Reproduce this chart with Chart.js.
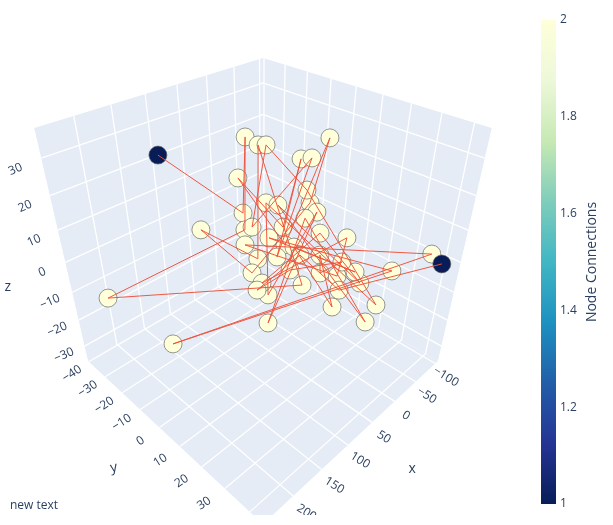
<!DOCTYPE html>
<html>
<head>
<meta charset="utf-8">
<title>Network 3D</title>
<script src="https://cdn.jsdelivr.net/npm/chart.js@4.4.1/dist/chart.umd.min.js"></script>
<style>
    html, body { margin: 0; padding: 0; background: #fff; }
    #wrap { position: relative; width: 613px; height: 525px; }
</style>
</head>
<body>
<div id="wrap"><canvas id="chart"></canvas></div>
<script>
// Node positions (data units), listed in path order: node i links to node i+1
var NODE_X = [110.9, 64.6, 23.4, 71.6, 229.9, 49.0, 15.9, 75.0, 111.1, 87.6,
              -0.8, -52.3, 43.5, 50.9, 36.0, -15.5, 56.9, -25.9, 63.8, 8.7,
              -4.8, -7.2, 38.8, 84.6, -2.3, 99.2, 11.5, 11.5, 29.1, -4.1,
              5.8, 83.8, -15.8, 12.8, 79.4, -83.8, 195.3, -39.1, 54.2, -5.4,
              36.4, 33.4, 17.3, 26.6, 1.1, 51.9, 91.9, 35.2, 18.4, -87.6];
var NODE_Y = [-33.5, -7.9, -16.9, -5.4, -26.4, 13.8, -13.1, 1.0, -14.9, 1.5,
              5.3, 1.5, 5.1, -13.4, 2.5, -2.1, 4.9, 0.1, -4.2, -11.4,
              3.0, 32.2, -4.2, 7.7, 7.9, 11.2, 6.1, 32.0, -1.4, 26.0,
              11.2, 4.9, 17.6, 20.2, -3.5, 37.9, -6.7, 31.4, 0.8, 23.6,
              7.3, 23.0, 13.9, 16.2, 19.5, 9.3, 4.7, 9.6, 22.4, 41.3];
var NODE_Z = [23.2, 10.8, 27.1, 7.2, -7.4, -4.6, 25.4, 1.0, 7.2, -2.0,
              13.0, 26.9, 4.0, 18.3, 7.8, 22.4, 1.4, 22.6, 7.8, 25.4,
              15.7, -8.9, 13.0, -6.7, 11.0, -12.7, 9.7, -12.5, 12.5, -4.2,
              6.5, -4.2, 5.5, -2.7, 4.0, 2.0, -17.2, -1.6, 5.5, -1.8,
              3.5, -9.3, 1.8, -2.0, 0.3, -1.4, -5.7, 1.8, -5.7, -0.1];

var X_RANGE = [-107, 249];
var Y_RANGE = [-40.5, 45];
var Z_RANGE = [-36, 37.5];
var X_TICKS = [-100, -50, 0, 50, 100, 150, 200];
var Y_TICKS = [-40, -30, -20, -10, 0, 10, 20, 30, 40];
var Z_TICKS = [-30, -20, -10, 0, 10, 20, 30];
var CBAR_TICKS = [1, 1.2, 1.4, 1.6, 1.8, 2];
var CBAR_RANGE = [1, 2];

var COLORSCALE = [
    [0, [8, 29, 88]], [0.125, [37, 52, 148]], [0.25, [34, 94, 168]],
    [0.375, [29, 145, 192]], [0.5, [65, 182, 196]], [0.625, [127, 205, 187]],
    [0.75, [199, 233, 180]], [0.875, [237, 248, 217]], [1, [255, 255, 217]]
];

var FONT = '"Open Sans", "Noto Sans", Arial, sans-serif';
var TEXT = '#2a3f5f';
var PANE = '#E5ECF6';

// camera: eye at (1.25,1.25,1.25), box scaled to a unit cube
var EYE_DIST = 1.25 * Math.sqrt(3);
var VIEW_X = [-263 / 607, 350 / 607];
var VIEW_Y = [-255 / 607, 260 / 607];   // scene ends 10px above the canvas bottom

function normal(x, y, z) {
    return [
        (x - X_RANGE[0]) / (X_RANGE[1] - X_RANGE[0]) - 0.5,
        (y - Y_RANGE[0]) / (Y_RANGE[1] - Y_RANGE[0]) - 0.5,
        (z - Z_RANGE[0]) / (Z_RANGE[1] - Z_RANGE[0]) - 0.5
    ];
}

function depthOf(x, y, z) {
    var p = normal(x, y, z);
    return EYE_DIST - (p[0] + p[1] + p[2]) / Math.sqrt(3);
}

function project(x, y, z) {
    var p = normal(x, y, z);
    var depth = depthOf(x, y, z);
    return {
        x: (p[1] - p[0]) / Math.SQRT2 / depth,
        y: (2 * p[2] - p[0] - p[1]) / Math.sqrt(6) / depth
    };
}

function colorAt(t) {
    for (var i = 1; i < COLORSCALE.length; i++) {
        if (t <= COLORSCALE[i][0]) {
            var a = COLORSCALE[i - 1], b = COLORSCALE[i];
            var f = (t - a[0]) / (b[0] - a[0]);
            var c = a[1].map(function (v, k) { return Math.round(v + (b[1][k] - v) * f); });
            return 'rgb(' + c.join(',') + ')';
        }
    }
    return 'rgb(255,255,217)';
}

var points = NODE_X.map(function (x, i) { return project(x, NODE_Y[i], NODE_Z[i]); });
var degree = NODE_X.map(function (_, i) {
    return (i > 0 ? 1 : 0) + (i < NODE_X.length - 1 ? 1 : 0);
});
var nodeColors = degree.map(function (d) {
    return colorAt((d - CBAR_RANGE[0]) / (CBAR_RANGE[1] - CBAR_RANGE[0]));
});

function toPx(chart, x, y, z) {
    var p = project(x, y, z);
    return { x: chart.scales.x.getPixelForValue(p.x), y: chart.scales.y.getPixelForValue(p.y) };
}

function drawSegment(ctx, chart, a, b) {
    var p = toPx(chart, a[0], a[1], a[2]);
    var q = toPx(chart, b[0], b[1], b[2]);
    ctx.moveTo(p.x, p.y);
    ctx.lineTo(q.x, q.y);
}

function drawPane(ctx, chart, corners) {
    ctx.beginPath();
    corners.forEach(function (c, i) {
        var p = toPx(chart, c[0], c[1], c[2]);
        if (i === 0) ctx.moveTo(p.x, p.y); else ctx.lineTo(p.x, p.y);
    });
    ctx.closePath();
    ctx.fill();
}

function drawLabel(ctx, text, x, y, angle, size) {
    ctx.save();
    ctx.translate(x, y);
    ctx.rotate(angle * Math.PI / 180);
    ctx.font = (size || 12) + 'px ' + FONT;
    ctx.textAlign = 'center';
    ctx.textBaseline = 'middle';
    ctx.fillText(text, 0, 0);
    ctx.restore();
}

// tick label placed off the axis edge; the offset grows as the edge nears the eye
function tickLabel(ctx, chart, text, pt, dx, dy, angle) {
    var p = toPx(chart, pt[0], pt[1], pt[2]);
    var k = EYE_DIST / depthOf(pt[0], pt[1], pt[2]);
    drawLabel(ctx, text.replace('-', '\u2212'), p.x + dx * k, p.y + dy * k, angle);
}

function clipScene(ctx, chart) {
    var a = chart.chartArea;
    ctx.beginPath();
    ctx.rect(a.left, a.top, a.right - a.left, a.bottom - a.top);
    ctx.clip();
}

var scenePlugin = {
    id: 'scene3d',
    beforeDatasetsDraw: function (chart) {
        var ctx = chart.ctx;
        var x0 = X_RANGE[0], x1 = X_RANGE[1];
        var y0 = Y_RANGE[0], y1 = Y_RANGE[1];
        var z0 = Z_RANGE[0], z1 = Z_RANGE[1];
        ctx.save();
        clipScene(ctx, chart);
        ctx.fillStyle = PANE;
        drawPane(ctx, chart, [[x0, y0, z0], [x1, y0, z0], [x1, y0, z1], [x0, y0, z1]]);
        drawPane(ctx, chart, [[x0, y0, z0], [x0, y1, z0], [x0, y1, z1], [x0, y0, z1]]);
        drawPane(ctx, chart, [[x0, y0, z0], [x1, y0, z0], [x1, y1, z0], [x0, y1, z0]]);

        ctx.strokeStyle = '#ffffff';
        ctx.lineWidth = 1.3;
        ctx.beginPath();
        X_TICKS.forEach(function (t) {
            drawSegment(ctx, chart, [t, y0, z0], [t, y0, z1]);
            drawSegment(ctx, chart, [t, y0, z0], [t, y1, z0]);
        });
        Y_TICKS.forEach(function (t) {
            drawSegment(ctx, chart, [x0, t, z0], [x0, t, z1]);
            drawSegment(ctx, chart, [x0, t, z0], [x1, t, z0]);
        });
        Z_TICKS.forEach(function (t) {
            drawSegment(ctx, chart, [x0, y0, t], [x1, y0, t]);
            drawSegment(ctx, chart, [x0, y0, t], [x0, y1, t]);
        });
        ctx.stroke();
        ctx.restore();
    },
    afterDatasetsDraw: function (chart) {
        var ctx = chart.ctx;
        ctx.save();
        clipScene(ctx, chart);
        ctx.fillStyle = TEXT;

        X_TICKS.forEach(function (t) {
            tickLabel(ctx, chart, String(t), [t, Y_RANGE[1], Z_RANGE[0]], 12, 15, 32);
        });
        Y_TICKS.forEach(function (t) {
            tickLabel(ctx, chart, String(t), [X_RANGE[1], t, Z_RANGE[0]], -19, 13.5, -33);
        });
        Z_TICKS.forEach(function (t) {
            tickLabel(ctx, chart, String(t), [X_RANGE[1], Y_RANGE[0], t], -23, 10, -24);
        });

        var mx = (X_RANGE[0] + X_RANGE[1]) / 2;
        var my = (Y_RANGE[0] + Y_RANGE[1]) / 2;
        var mz = (Z_RANGE[0] + Z_RANGE[1]) / 2;
        var tx = toPx(chart, mx, Y_RANGE[1], Z_RANGE[0]);
        var ty = toPx(chart, X_RANGE[1], my, Z_RANGE[0]);
        var tz = toPx(chart, X_RANGE[1], Y_RANGE[0], mz);
        drawLabel(ctx, 'x', tx.x + 50, tx.y + 37, 0, 14);
        drawLabel(ctx, 'y', ty.x - 50, ty.y + 36, -10, 14);
        drawLabel(ctx, 'z', tz.x - 57, tz.y + 27, 0, 14);
        ctx.restore();

        // colour bar
        ctx.save();
        var bx = 541, bw = 15, top = 20, bottom = 504;
        var grad = ctx.createLinearGradient(0, bottom, 0, top);
        COLORSCALE.forEach(function (s) { grad.addColorStop(s[0], 'rgb(' + s[1].join(',') + ')'); });
        ctx.fillStyle = grad;
        ctx.fillRect(bx, top, bw, bottom - top);

        ctx.fillStyle = TEXT;
        ctx.font = '12px ' + FONT;
        ctx.textAlign = 'left';
        ctx.textBaseline = 'middle';
        CBAR_TICKS.forEach(function (t) {
            var f = (t - CBAR_RANGE[0]) / (CBAR_RANGE[1] - CBAR_RANGE[0]);
            ctx.fillText(String(t), bx + bw + 4, bottom - f * (bottom - top));
        });
        drawLabel(ctx, 'Node Connections', 592, (top + bottom) / 2, -90, 14);

        ctx.font = '12px ' + FONT;
        ctx.textAlign = 'left';
        ctx.textBaseline = 'middle';
        ctx.fillText('new text', 10, 506);
        ctx.restore();
    }
};

new Chart(document.getElementById('chart'), {
    type: 'scatter',
    data: {
        datasets: [
            {
                label: 'edges',
                data: points,
                showLine: true,
                borderColor: 'rgba(239, 80, 58, 0.95)',
                borderWidth: 1,
                pointRadius: 0,
                tension: 0
            },
            {
                label: 'nodes',
                data: points,
                pointRadius: 9,
                pointHoverRadius: 9,
                pointBackgroundColor: nodeColors,
                pointBorderColor: 'rgba(95, 95, 95, 0.8)',
                pointBorderWidth: 0.8
            }
        ]
    },
    options: {
        responsive: true,
        maintainAspectRatio: false,
        animation: false,
        events: [],
        layout: { padding: { left: 0, right: 0, top: 0, bottom: 10 }, autoPadding: false },
        plugins: { legend: { display: false }, tooltip: { enabled: false } },
        scales: {
            x: { type: 'linear', display: false, min: VIEW_X[0], max: VIEW_X[1] },
            y: { type: 'linear', display: false, min: VIEW_Y[0], max: VIEW_Y[1] }
        }
    },
    plugins: [scenePlugin]
});
</script>
</body>
</html>
